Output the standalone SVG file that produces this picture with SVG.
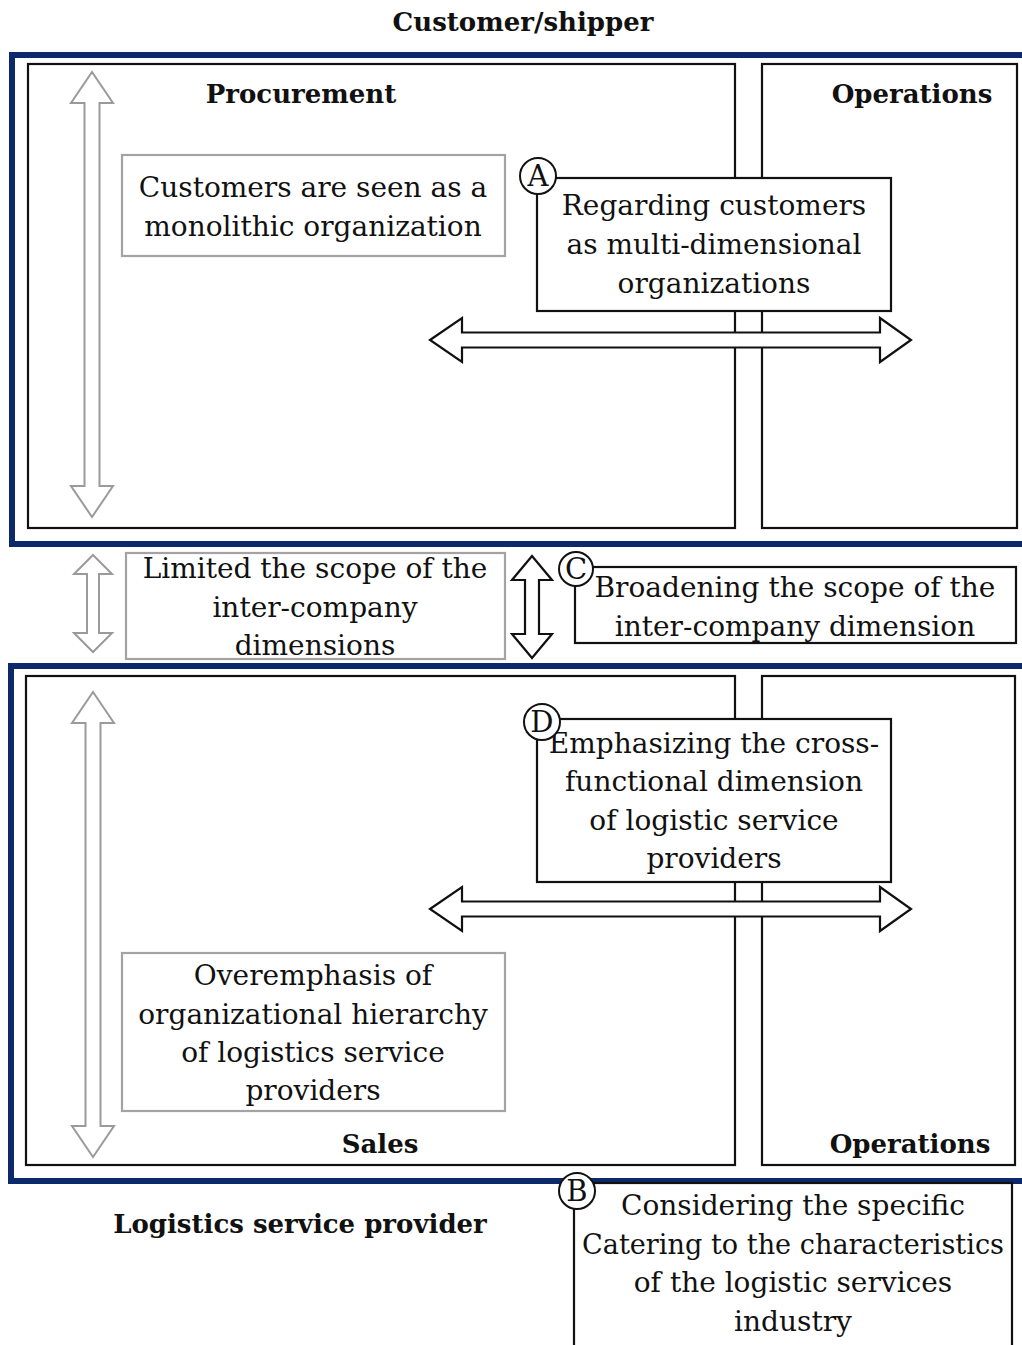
<svg xmlns="http://www.w3.org/2000/svg" width="1022" height="1345" viewBox="0 0 1022 1345">
<style>
.navy{fill:none;stroke:#0c2a6b;stroke-width:6}
.inner{fill:none;stroke:#111;stroke-width:2.2}
.gbox{fill:#fff;stroke:#a3a3a3;stroke-width:2.2}
.bbox{fill:#fff;stroke:#111;stroke-width:2.2}
.garrow{fill:#fff;stroke:#9a9a9a;stroke-width:2}
.barrow{fill:#fff;stroke:#111;stroke-width:2.2}
.circ{fill:#fff;stroke:#111;stroke-width:2}
.t{font-family:"DejaVu Serif","Liberation Serif",serif;font-size:28px;fill:#111;text-anchor:middle}
.h{font-family:"DejaVu Serif","Liberation Serif",serif;font-size:26px;font-weight:bold;fill:#111;text-anchor:middle}
.l{font-family:"DejaVu Serif","Liberation Serif",serif;font-size:29px;fill:#111;text-anchor:middle}
</style>
<rect width="1022" height="1345" fill="#fff"/>

<g id="title-customer"><text class="h" x="523" y="31">Customer/shipper</text></g>

<g id="customer-org">
<rect class="navy" x="12" y="55" width="1020" height="489"/>
</g>
<g id="procurement"><rect class="inner" x="28" y="64" width="707" height="464"/>
<text class="h" x="301" y="103">Procurement</text></g>
<g id="operations-top"><rect class="inner" x="762" y="64" width="255" height="464"/>
<text class="h" x="912" y="103">Operations</text></g>

<g id="lsp-org">
<rect class="navy" x="11" y="666" width="1021" height="515"/>
</g>
<g id="sales"><rect class="inner" x="26" y="676" width="709" height="489"/>
<text class="h" x="380" y="1153">Sales</text></g>
<g id="operations-bottom"><rect class="inner" x="762" y="676" width="253" height="489"/>
<text class="h" x="910" y="1153">Operations</text></g>

<g id="connectors">
<path class="garrow" d="M92,72 L113,103 L99.5,103 L99.5,486 L113,486 L92,517 L71,486 L84.5,486 L84.5,103 L71,103 Z"/>
<path class="garrow" d="M93,555 L112,574 L99,574 L99,633 L112,633 L93,652 L74,633 L87,633 L87,574 L74,574 Z"/>
<path class="barrow" d="M532,556 L552,580 L539,580 L539,634 L552,634 L532,658 L512,634 L525,634 L525,580 L512,580 Z"/>
<path class="garrow" d="M93,692 L114,723 L100.5,723 L100.5,1126 L114,1126 L93,1157 L72,1126 L85.5,1126 L85.5,723 L72,723 Z"/>
<path class="barrow" d="M430,340 L462,318 L462,332.5 L880,332.5 L880,318 L911,340 L880,362 L880,347.5 L462,347.5 L462,362 Z"/>
<path class="barrow" d="M430,909 L462,887 L462,901.5 L880,901.5 L880,887 L911,909 L880,931 L880,916.5 L462,916.5 L462,931 Z"/>
</g>

<g id="box-monolithic"><rect class="gbox" x="122" y="155" width="383" height="101"/>
<text class="t" x="313" y="197">Customers are seen as a</text>
<text class="t" x="313" y="236">monolithic organization</text></g>

<g id="box-A"><rect class="bbox" x="537" y="178" width="354" height="133"/>
<text class="t" x="714" y="215">Regarding customers</text>
<text class="t" x="714" y="254">as multi-dimensional</text>
<text class="t" x="714" y="293">organizations</text>
<circle class="circ" cx="538" cy="176" r="18"/><text class="l" x="538" y="186">A</text></g>

<g id="box-limited"><rect class="gbox" x="126" y="553" width="379" height="106"/>
<text class="t" x="315" y="578">Limited the scope of the</text>
<text class="t" x="315" y="617">inter-company</text>
<text class="t" x="315" y="655">dimensions</text></g>

<g id="box-C"><rect class="bbox" x="575" y="567" width="441" height="76"/>
<text class="t" x="795" y="597">Broadening the scope of the</text>
<text class="t" x="795" y="636">inter-company dimension</text>
<circle class="circ" cx="576" cy="569" r="17"/><text class="l" x="576" y="579">C</text></g>

<g id="box-D"><rect class="bbox" x="537" y="719" width="354" height="163"/>
<text class="t" x="714" y="753">Emphasizing the cross-</text>
<text class="t" x="714" y="791">functional dimension</text>
<text class="t" x="714" y="830">of logistic service</text>
<text class="t" x="714" y="868">providers</text>
<circle class="circ" cx="542" cy="722" r="18"/><text class="l" x="542" y="732">D</text></g>

<g id="box-overemphasis"><rect class="gbox" x="122" y="953" width="383" height="158"/>
<text class="t" x="313" y="985">Overemphasis of</text>
<text class="t" x="313" y="1024">organizational hierarchy</text>
<text class="t" x="313" y="1062">of logistics service</text>
<text class="t" x="313" y="1100">providers</text></g>

<g id="title-lsp"><text class="h" x="300" y="1233">Logistics  service  provider</text></g>

<g id="box-B"><rect class="bbox" x="574" y="1183" width="438" height="170"/>
<text class="t" x="793" y="1215">Considering the specific</text>
<text class="t" x="793" y="1254" textLength="422" lengthAdjust="spacingAndGlyphs">Catering to the characteristics</text>
<text class="t" x="793" y="1292">of the logistic services</text>
<text class="t" x="793" y="1331">industry</text>
<circle class="circ" cx="577" cy="1191" r="18"/><text class="l" x="577" y="1201">B</text></g>
</svg>
